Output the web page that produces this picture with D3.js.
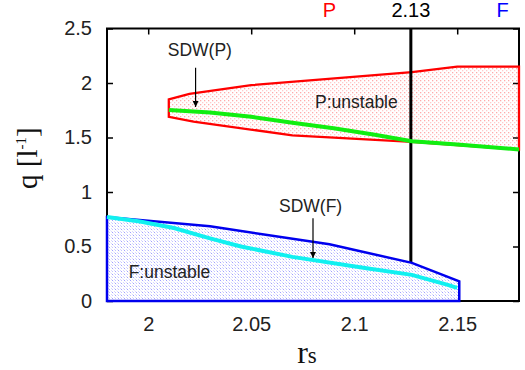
<!DOCTYPE html>
<html>
<head>
<meta charset="utf-8">
<script src="https://cdn.jsdelivr.net/npm/d3@7"></script>
<style>
  body { margin: 0; background: #fff; }
  svg { display: block; }
</style>
</head>
<body>
<svg id="chart" width="525" height="370"></svg>
<script>
// data
const xTicks = [2, 2.05, 2.1, 2.15];
const xTickLabels = ["2", "2.05", "2.1", "2.15"];
const yTicks = [0, 0.5, 1, 1.5, 2, 2.5];
const yTickLabels = ["0", "0.5", "1", "1.5", "2", "2.5"];

// P:unstable region (red) boundary, clockwise
const pRegion = [
  [2.01, 1.85], [2.02, 1.90], [2.05, 1.98], [2.128, 2.10], [2.15, 2.15], [2.18, 2.15],
  [2.18, 1.39], [2.15, 1.43], [2.128, 1.46], [2.07, 1.52], [2.022, 1.645], [2.01, 1.69]
];
// F:unstable region (blue)
const fRegion = [
  [1.98, 0], [1.98, 0.77], [2.03, 0.685], [2.088, 0.52], [2.128, 0.35],
  [2.151, 0.18], [2.151, 0]
];
// SDW(P) green line
const sdwP = [
  [2.01, 1.752], [2.03, 1.73], [2.05, 1.69], [2.07, 1.635], [2.09, 1.585],
  [2.11, 1.525], [2.128, 1.465], [2.15, 1.435], [2.18, 1.39]
];
// SDW(F) cyan line
const sdwF = [
  [1.98, 0.77], [1.996, 0.73], [2.0125, 0.67], [2.03, 0.575], [2.045, 0.5],
  [2.07, 0.405], [2.106, 0.30], [2.128, 0.24], [2.145, 0.15], [2.15, 0.12]
];
const rsMark = 2.1275;
const topLabels = [
  { x: 2.088, text: "P", color: "#ff0000" },
  { x: rsMark, text: "2.13", color: "#000" },
  { x: 2.172, text: "F", color: "#0000ff" }
];

const svg = d3.select("#chart");
const W = 525, H = 370;
const margin = { top: 28.5, right: 6, bottom: 69, left: 107 };
const x = d3.scaleLinear().domain([1.98, 2.18]).range([margin.left, W - margin.right]);
const y = d3.scaleLinear().domain([0, 2.5]).range([H - margin.bottom, margin.top]);
const sans = "'Liberation Sans', Arial, sans-serif";
const serif = "'Liberation Serif', 'Times New Roman', serif";

const defs = svg.append("defs");
// light red stipple
const pRed = defs.append("pattern")
  .attr("id", "redDots").attr("patternUnits", "userSpaceOnUse")
  .attr("width", 4).attr("height", 4);
pRed.append("rect").attr("x", 0).attr("y", 0).attr("width", 1.3).attr("height", 1.3)
  .attr("fill", "#ff2a2a").attr("opacity", 0.4);
pRed.append("rect").attr("x", 2).attr("y", 2).attr("width", 1.3).attr("height", 1.3)
  .attr("fill", "#ff5050").attr("opacity", 0.3);

// light blue dashes
const pBlue = defs.append("pattern")
  .attr("id", "blueDash").attr("patternUnits", "userSpaceOnUse")
  .attr("width", 6).attr("height", 6);
pBlue.append("rect").attr("width", 6).attr("height", 6).attr("fill", "#fff");
pBlue.append("path").attr("d", "M0.6,0.6L2.2,2.2M3.6,3.6L5.2,5.2M3.6,0.6L4.6,1.6M0.6,3.6L1.6,4.6")
  .attr("stroke", "#4d4dff").attr("stroke-width", 0.9).attr("opacity", 0.6);

const line = d3.line().x(d => x(d[0])).y(d => y(d[1]));

// axes with inward ticks
svg.append("g").attr("transform", `translate(0,${y(0)})`)
  .call(d3.axisBottom(x).tickValues(xTicks).tickFormat((d, i) => xTickLabels[i])
    .tickSizeInner(-6).tickSizeOuter(0).tickPadding(16));
svg.append("g").attr("transform", `translate(0,${y(2.5)})`)
  .call(d3.axisTop(x).tickValues(xTicks).tickFormat("").tickSizeInner(-6).tickSizeOuter(0));
svg.append("g").attr("transform", `translate(${x(1.98)},0)`)
  .call(d3.axisLeft(y).tickValues(yTicks).tickFormat((d, i) => yTickLabels[i])
    .tickSizeInner(-6).tickSizeOuter(0).tickPadding(15));
svg.append("g").attr("transform", `translate(${x(2.18)},0)`)
  .call(d3.axisRight(y).tickValues(yTicks).tickFormat("").tickSizeInner(-6).tickSizeOuter(0));

svg.selectAll(".domain").remove();
svg.selectAll(".tick line").attr("stroke", "#000").attr("stroke-width", 1.5);
svg.selectAll(".tick text").style("font-family", sans).style("font-size", "20px").attr("fill", "#222");

// frame
svg.append("rect")
  .attr("x", x(1.98)).attr("y", y(2.5))
  .attr("width", x(2.18) - x(1.98)).attr("height", y(0) - y(2.5))
  .attr("fill", "none").attr("stroke", "#000").attr("stroke-width", 2);

// P region
svg.append("path").datum(pRegion)
  .attr("d", d => line(d) + "Z")
  .attr("fill", "url(#redDots)").attr("stroke", "#ff0000").attr("stroke-width", 2.3);

// vertical marker
svg.append("line")
  .attr("x1", x(rsMark)).attr("x2", x(rsMark))
  .attr("y1", y(2.5)).attr("y2", y(0))
  .attr("stroke", "#000").attr("stroke-width", 3);

// SDW(P)
svg.append("path").datum(sdwP).attr("d", line)
  .attr("fill", "none").attr("stroke", "#11ee11").attr("stroke-width", 4);

// F region
svg.append("path").datum(fRegion)
  .attr("d", d => line(d) + "Z")
  .attr("fill", "url(#blueDash)").attr("stroke", "#0000ee").attr("stroke-width", 2.5);

// SDW(F)
svg.append("path").datum(sdwF).attr("d", line)
  .attr("fill", "none").attr("stroke", "#11f0f0").attr("stroke-width", 4);

// annotations
defs.append("marker").attr("id", "arrow")
  .attr("viewBox", "0 0 10 10").attr("refX", 10).attr("refY", 5)
  .attr("markerWidth", 10).attr("markerHeight", 6).attr("markerUnits", "userSpaceOnUse")
  .attr("orient", "auto")
  .append("path").attr("d", "M0,0L10,5L0,10Z").attr("fill", "#000");

const notes = [
  { text: "SDW(P)", x: 2.0095, y: 2.25 },
  { text: "P:unstable", x: 2.081, y: 1.77 },
  { text: "SDW(F)", x: 2.0635, y: 0.82 },
  { text: "F:unstable", x: 1.9905, y: 0.21 }
];
svg.selectAll(".note").data(notes).join("text")
  .attr("class", "note")
  .attr("x", d => x(d.x)).attr("y", d => y(d.y))
  .style("font-family", sans).style("font-size", "17.5px").attr("fill", "#222")
  .text(d => d.text);

const arrows = [
  { x: 2.023, y0: 2.14, y1: 1.78 },
  { x: 2.08, y0: 0.76, y1: 0.395 }
];
svg.selectAll(".arr").data(arrows).join("line")
  .attr("class", "arr")
  .attr("x1", d => x(d.x)).attr("x2", d => x(d.x))
  .attr("y1", d => y(d.y0)).attr("y2", d => y(d.y1))
  .attr("stroke", "#000").attr("stroke-width", 1.2)
  .attr("marker-end", "url(#arrow)");

// top labels
svg.selectAll(".toplab").data(topLabels).join("text")
  .attr("class", "toplab")
  .attr("x", d => x(d.x)).attr("y", 17)
  .attr("text-anchor", "middle")
  .style("font-family", sans).style("font-size", "20px")
  .attr("fill", d => d.color)
  .text(d => d.text);

// axis titles
const xt = svg.append("text").attr("x", 307).attr("y", 363).attr("text-anchor", "middle")
  .style("font-family", serif).attr("fill", "#111");
xt.append("tspan").style("font-size", "32px").text("r");
xt.append("tspan").style("font-size", "23px").text("s");

const yt = svg.append("text")
  .attr("transform", "translate(37,189) rotate(-90)")
  .attr("text-anchor", "start")
  .style("font-family", serif).style("font-size", "29px").attr("fill", "#111");
yt.append("tspan").text("q [l");
yt.append("tspan").attr("dy", -11).style("font-size", "15px").text("-1");
yt.append("tspan").attr("dy", 11).text("]");
</script>
</body>
</html>
